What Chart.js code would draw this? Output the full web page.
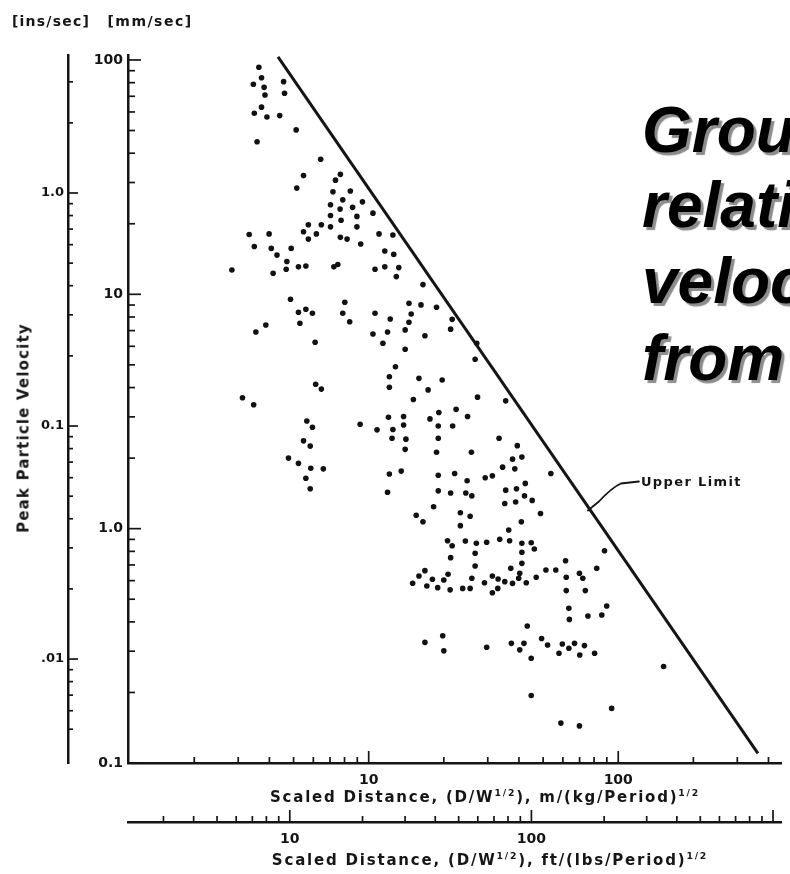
<!DOCTYPE html>
<html><head><meta charset="utf-8">
<script src="https://cdn.jsdelivr.net/npm/chart.js@4.4.1/dist/chart.umd.min.js"></script>
<style>
html,body{margin:0;padding:0;background:#fff;}
body{width:790px;height:874px;overflow:hidden;position:relative;}
#wrap{position:absolute;left:0;top:0;width:790px;height:874px;}
.scan{position:absolute;font-family:"DejaVu Sans",sans-serif;font-weight:bold;color:#161616;white-space:nowrap;line-height:1;}
.scan sup{font-size:0.62em;vertical-align:0.55em;line-height:0;}
.title{position:absolute;left:642px;font-family:"Liberation Sans",Arial,sans-serif;font-weight:bold;font-style:italic;font-size:64px;color:#000;text-shadow:3px 3px 1px #8c8c8c;white-space:nowrap;line-height:1;}
</style></head>
<body>
<div id="wrap"><canvas id="c"></canvas></div>
<div class="scan fit" data-w="78" data-cx="51" data-cy="21" style="font-size:14px">[ins/sec]</div>
<div class="scan fit" data-w="85" data-cx="150" data-cy="21" style="font-size:14px">[mm/sec]</div>
<div class="scan fit" data-w="210" data-cx="24" data-cy="428" data-rot="1" style="font-size:15px">Peak Particle Velocity</div>
<div class="scan fit" data-w="430" data-cx="485" data-cy="797" style="font-size:15px">Scaled Distance, (D/W<sup>1/2</sup>), m/(kg/Period)<sup>1/2</sup></div>
<div class="scan fit" data-w="436" data-cx="490" data-cy="860" style="font-size:15px">Scaled Distance, (D/W<sup>1/2</sup>), ft/(lbs/Period)<sup>1/2</sup></div>
<div class="title" style="top:98px">Grou</div>
<div class="title" style="top:173px">relati</div>
<div class="title" style="top:249px">veloc</div>
<div class="title" style="top:326px">from</div>
<script>
// ---- data ----
const distanceA = [3.63,3.72,3.45,3.81,4.56,3.84,4.60,3.72,3.48,3.91,4.40,5.12,3.57,6.42,5.48,5.15,7.70,7.36,7.19,8.44,7.87,9.44,7.03,7.68,8.62,7.03,7.75,8.97,10.4,5.73,5.48,6.17,6.46,7.03,8.97,5.73,7.70,8.19,11.0,12.5,9.29,3.32,3.99,3.48,4.07,4.29,4.89,4.70,4.67,5.23,5.60,7.25,7.52,2.83,4.14,11.6,12.6,10.6,11.6,13.2,12.9,16.5];
const ppvA = [93.1,84.0,78.8,76.4,80.8,70.9,72.1,62.9,59.2,57.1,57.9,50.3,44.8,37.7,32.1,28.4,32.5,30.7,27.4,27.6,25.3,24.8,24.1,23.1,23.5,21.7,20.7,21.5,22.2,19.8,18.5,18.1,19.8,19.4,19.4,17.2,17.5,17.2,18.1,17.9,16.4,18.0,18.1,16.0,15.7,14.7,15.7,13.8,12.8,13.1,13.2,13.1,13.4,12.7,12.3,15.3,14.8,12.8,13.1,13.0,11.9,11.0];
const distanceB = [4.86,5.23,5.60,5.95,5.30,3.87,3.53,6.10,8.02,7.87,8.39,10.6,12.2,10.4,11.9,11.4,14.5,16.2,18.7,14.8,14.5,14.0,16.8,14.0,12.8,12.1,12.1,15.9,19.7,17.3,15.1,6.13,6.46,3.12,3.46,5.65,5.95,5.48,5.83,4.77,5.23,5.86,6.58,5.60,5.83,9.24,10.8,12.0,12.5,12.4,13.8,13.8,14.1,14.0,17.6,19.1,19.0,19.0,18.7,12.1,13.5,11.9,19.0,19.0,18.2,15.5];
const ppvB = [9.53,8.38,8.63,8.30,7.52,7.40,6.91,6.24,9.25,8.30,7.64,8.30,7.85,6.77,6.91,6.18,9.16,9.01,8.81,8.24,7.60,7.05,6.66,5.83,4.91,4.45,4.01,4.38,4.31,3.91,3.56,4.13,3.94,3.62,3.38,2.88,2.71,2.37,2.25,2.00,1.90,1.81,1.80,1.64,1.48,2.79,2.64,2.99,2.65,2.43,3.01,2.77,2.41,2.18,2.94,3.13,2.74,2.43,2.12,1.71,1.76,1.43,1.69,1.45,1.24,1.14];
const distanceC = [16.5,16.8,15.9,15.0,18.0,17.1,18.9,20.0,16.8,19.8,20.0];
const ppvC = [1.07,0.662,0.628,0.585,0.608,0.569,0.560,0.604,0.327,0.349,0.301];
const distanceD = [21.6,21.3,27.1,26.7,27.3,35.4,22.4,24.9,21.7,25.8,33.3,39.4,37.7,41.1,34.4,38.5,22.1,29.3,31.3,24.8,21.3,24.5,25.9,35.4,39.1,42.4,42.1,35.1,38.8,45.2,53.7,23.3,25.5,48.8];
const ppvD = [7.82,7.10,6.18,5.28,3.64,3.51,3.23,3.01,2.74,2.12,2.43,2.26,1.98,2.02,1.83,1.80,1.72,1.65,1.68,1.60,1.42,1.42,1.38,1.46,1.48,1.56,1.38,1.28,1.30,1.32,1.72,1.17,1.13,1.16];
const distanceE = [23.3,40.9,36.4,20.7,21.6,24.4,27.0,29.7,33.5,36.7,41.1,44.8,46.1,41.1,26.7,21.3,26.7,41.1,37.1,40.3,51.3,56.2,61.5,82.0,88.1,69.9,72.1,61.9,20.8,25.9,31.3,33.0,29.1,35.1,37.7,39.9,42.8,46.9,21.2,23.8,25.5,31.3,32.9,61.9,73.8,63.4,63.7,75.6,85.9,89.9,43.2,29.7,37.3,41.9,40.3,49.3,52.1,59.7,63.4,66.8,73.2,57.9,70.1,80.4,44.8,152,44.8,94.1,58.9,69.9];
const ppvE = [1.03,1.07,0.987,0.888,0.846,0.886,0.866,0.875,0.901,0.888,0.866,0.871,0.819,0.793,0.785,0.752,0.693,0.711,0.678,0.645,0.666,0.666,0.730,0.678,0.805,0.645,0.614,0.620,0.639,0.614,0.628,0.610,0.588,0.594,0.584,0.614,0.588,0.620,0.548,0.556,0.556,0.533,0.556,0.544,0.544,0.457,0.410,0.424,0.428,0.468,0.384,0.312,0.324,0.324,0.304,0.340,0.319,0.322,0.309,0.324,0.317,0.294,0.289,0.294,0.280,0.258,0.194,0.171,0.148,0.144];

const upperLimitDistance = [4.33, 363];
const upperLimitPpv = [103, 0.11];
const upperLimitLabel = 'Upper Limit';
const upperLimitLabelAt = 77;

const mmDecades = [0.1, 1, 10, 100];
const mmLabels = ['0.1', '1.0', '10', '100'];
const inDecades = [0.01, 0.1, 1];
const inLabels = ['.01', '0.1', '1.0'];
const metricDecades = [10, 100];
const metricLabels = ['10', '100'];
const imperialDecades = [10, 100];
const imperialLabels = ['10', '100'];

// ---- build ----
const distance = [].concat(distanceA, distanceB, distanceC, distanceD, distanceE);
const ppv = [].concat(ppvA, ppvB, ppvC, ppvD, ppvE);
const points = distance.map((d, i) => ({x: d, y: ppv[i]}));
const upperLine = upperLimitDistance.map((d, i) => ({x: d, y: upperLimitPpv[i]}));

function labeler(decades, labels) {
  return (v) => {
    const i = decades.findIndex(d => Math.abs(d - v) / d < 1e-6);
    return i >= 0 ? labels[i] : '';
  };
}
const INK = '#151515';
const tickFont = {family: 'DejaVu Sans', size: 14, weight: 'bold'};

const inwardTicks = {
  id: 'inwardTicks',
  afterDraw(chart) {
    const ctx = chart.ctx;
    const specs = {y: [7, 13], yIn: [5, 10], x: [6, 12], x2: [6, 12]};
    ctx.save();
    ctx.strokeStyle = INK;
    ctx.lineWidth = 1.7;
    for (const id in specs) {
      const s = chart.scales[id];
      for (const t of s.ticks) {
        const v = t.value;
        const e = Math.floor(Math.log10(v) + 1e-9);
        const m = v / Math.pow(10, e);
        if (Math.abs(m - Math.round(m)) > 1e-6) continue;
        const len = Math.round(m) === 1 ? specs[id][1] : specs[id][0];
        const p = s.getPixelForValue(v);
        ctx.beginPath();
        if (s.isHorizontal()) { ctx.moveTo(p, s.top); ctx.lineTo(p, s.top - len); }
        else { ctx.moveTo(s.right, p); ctx.lineTo(s.right + len, p); }
        ctx.stroke();
      }
    }
    ctx.restore();
  }
};

const upperLimitNote = {
  id: 'upperLimitNote',
  afterDraw(chart) {
    const xs = chart.scales.x, ys = chart.scales.y, ctx = chart.ctx;
    const L = Math.log10;
    const t = (L(upperLimitLabelAt) - L(upperLimitDistance[0])) / (L(upperLimitDistance[1]) - L(upperLimitDistance[0]));
    const ly = L(upperLimitPpv[0]) + t * (L(upperLimitPpv[1]) - L(upperLimitPpv[0]));
    const ax = xs.getPixelForValue(upperLimitLabelAt), ay = ys.getPixelForValue(Math.pow(10, ly));
    ctx.save();
    ctx.strokeStyle = INK; ctx.lineWidth = 1.8; ctx.lineCap = 'round';
    ctx.beginPath();
    ctx.moveTo(ax - 2, ay + 1);
    ctx.lineTo(ax + 9, ay - 8);
    ctx.quadraticCurveTo(ax + 22, ay - 22, ax + 31, ay - 26);
    ctx.lineTo(ax + 49, ay - 28);
    ctx.stroke();
    ctx.fillStyle = INK;
    ctx.font = 'bold 13px "DejaVu Sans"';
    ctx.textBaseline = 'middle';
    const w0 = ctx.measureText(upperLimitLabel).width;
    ctx.letterSpacing = ((101 - w0) / upperLimitLabel.length).toFixed(2) + 'px';
    ctx.fillText(upperLimitLabel, ax + 51, ay - 27);
    ctx.restore();
  }
};

new Chart(document.getElementById('c'), {
  type: 'scatter',
  data: {
    datasets: [
      {type: 'line', data: upperLine, borderColor: INK, borderWidth: 3, pointRadius: 0, showLine: true, fill: false, xAxisID: 'x', yAxisID: 'y'},
      {data: points, pointRadius: 2.8, pointBackgroundColor: '#111', pointBorderWidth: 0, xAxisID: 'x', yAxisID: 'y'}
    ]
  },
  options: {
    responsive: true, maintainAspectRatio: false, animation: false,
    layout: {padding: {top: 55, left: 0, right: 0, bottom: 0}},
    plugins: {legend: {display: false}, tooltip: {enabled: false}},
    scales: {
      x: {type: 'logarithmic', axis: 'x', position: 'bottom', min: 1.085, max: 449,
          border: {display: true, color: INK, width: 2.5},
          grid: {display: true, drawOnChartArea: false, drawTicks: false},
          ticks: {autoSkip: false, maxRotation: 0, padding: 9, color: INK, font: tickFont, callback: labeler(metricDecades, metricLabels)},
          afterFit: s => { s.height = 59; }},
      x2: {type: 'logarithmic', axis: 'x', position: 'bottom', min: 2.14, max: 1079,
          border: {display: true, color: INK, width: 2.5},
          grid: {display: true, drawOnChartArea: false, drawTicks: false},
          ticks: {autoSkip: false, maxRotation: 0, padding: 9, color: INK, font: tickFont, callback: labeler(imperialDecades, imperialLabels)},
          afterFit: s => { s.height = 52; }},
      y: {type: 'logarithmic', axis: 'y', position: 'left', min: 0.1, max: 105,
          border: {display: true, color: INK, width: 2.5},
          grid: {display: true, drawOnChartArea: false, drawTicks: false},
          ticks: {autoSkip: false, padding: 5, color: INK, font: tickFont, callback: labeler(mmDecades, mmLabels)},
          afterFit: s => { s.width = 60; }},
      yIn: {type: 'logarithmic', axis: 'y', position: 'left', min: 0.00358, max: 3.91,
          border: {display: true, color: INK, width: 2.5},
          grid: {display: true, drawOnChartArea: false, drawTicks: false},
          ticks: {autoSkip: false, padding: 4, color: INK, font: {family: 'DejaVu Sans', size: 13, weight: 'bold'}, callback: labeler(inDecades, inLabels)},
          afterFit: s => { s.width = 68; }}
    }
  },
  plugins: [inwardTicks, upperLimitNote]
});

// fit scanned labels to their widths in the picture
document.querySelectorAll('.fit').forEach(el => {
  const target = +el.dataset.w;
  const n = el.textContent.length;
  const w = el.offsetWidth;
  el.style.letterSpacing = ((target - w) / n).toFixed(2) + 'px';
  el.style.left = el.dataset.cx + 'px';
  el.style.top = el.dataset.cy + 'px';
  el.style.transform = 'translate(-50%,-50%)' + (el.dataset.rot ? ' rotate(-90deg)' : '');
});
</script>
</body></html>
